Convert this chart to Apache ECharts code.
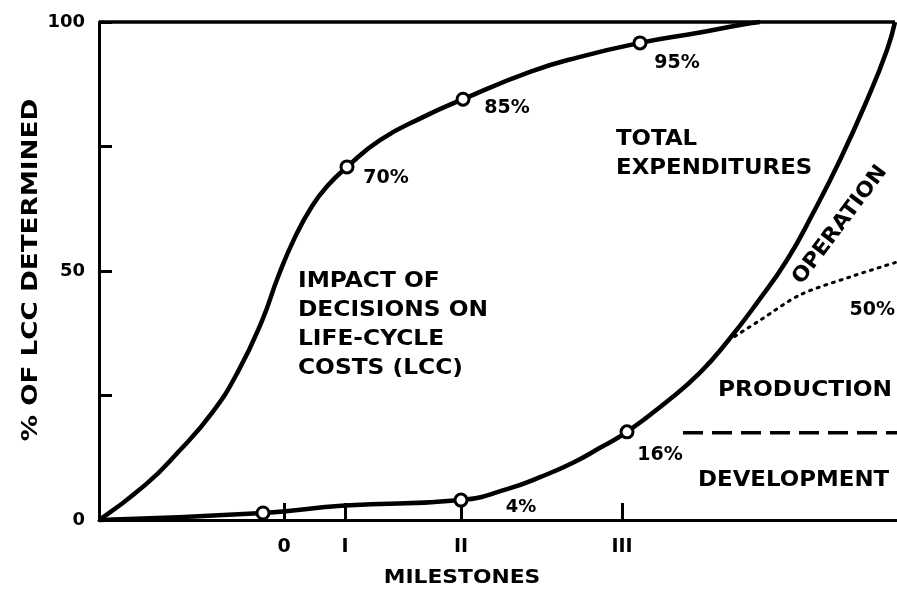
<!DOCTYPE html>
<html>
<head>
<meta charset="utf-8">
<script src="https://cdn.jsdelivr.net/npm/echarts@6/dist/echarts.min.js"></script>
<style>
html,body{margin:0;padding:0;background:#fff;}
#chart{width:897px;height:597px;}
</style>
</head>
<body>
<div id="chart"></div>
<script>
// Milestone positions on the horizontal (time) axis, in axis units
const milestoneValues = [185, 246, 362, 523];
const milestoneLabels = ['0', 'I', 'II', 'III'];
// Y axis tick labels
const yTickValues = [0, 25, 50, 75, 100];
const yTickLabels = ['0', '', '50', '', '100'];

// Impact of decisions on LCC (upper curve)
const impactX = [0, 46, 79, 113, 139, 163, 179, 196, 213, 229, 248, 281, 324, 364, 431, 481, 541, 598, 641, 661];
const impactY = [0, 7.0, 13.6, 21.5, 29.8, 40.0, 48.8, 56.8, 63.0, 67.2, 70.9, 76.3, 80.9, 84.5, 90.0, 93.0, 95.8, 97.8, 99.4, 100];
// Total expenditures (lower curve)
const spendX = [0, 164, 246, 362, 408, 441, 474, 501, 528, 568, 601, 629, 658, 688, 714, 741, 768, 788, 796];
const spendY = [0, 1.4, 2.9, 4.0, 6.2, 8.6, 11.5, 14.5, 17.7, 23.8, 29.6, 36.0, 43.6, 52.2, 61.6, 72.3, 84.3, 94.4, 100];
// Marked points (circles)
const impactMarkX = [248, 364, 541];
const impactMarkY = [70.9, 84.5, 95.8];
const spendMarkX = [164, 362, 528];
const spendMarkY = [1.4, 4.0, 17.7];
// Production / operation split (dotted)
const operX = [629, 661, 701, 751, 798];
const operY = [36.0, 40.1, 45.2, 48.8, 51.8];
// Development / production split (dashed)
const devX = [584, 798];
const devY = [17.5, 17.5];
// Top frame line at 100 %
const topX = [0, 796];
const topY = [100, 100];

const zip = (xs, ys) => xs.map((x, i) => [x, ys[i]]);
const F = '"DejaVu Sans", sans-serif';

const chart = echarts.init(document.getElementById('chart'), null, {renderer: 'canvas'});
const lineBase = {type: 'line', symbol: 'none', clip: false, silent: true, animation: false};
const markStyle = {color: '#ffffff', borderColor: '#000', borderWidth: 3, opacity: 1};

function label(text, x, y, opts) {
  opts = opts || {};
  return {
    type: 'text', x: x, y: y, z: 10,
    rotation: opts.rotation || 0,
    scaleX: opts.scaleX || 1,
    style: {
      text: text,
      font: 'bold ' + (opts.size || 21) + 'px ' + F,
      lineHeight: opts.lineHeight,
      align: opts.align || 'left',
      verticalAlign: opts.valign || 'middle',
      fill: '#000'
    }
  };
}

chart.setOption({
  backgroundColor: '#ffffff',
  animation: false,
  grid: {left: 99, right: 0, top: 22, bottom: 77, containLabel: false, outerBoundsMode: 'none'},
  xAxis: {
    type: 'value', min: 0, max: 798,
    splitLine: {show: false},
    axisLine: {lineStyle: {color: '#000', width: 3}},
    axisTick: {show: true, inside: true, length: 17, customValues: milestoneValues, lineStyle: {color: '#000', width: 3}},
    axisLabel: {
      customValues: milestoneValues,
      formatter: v => milestoneLabels[milestoneValues.indexOf(v)] || '',
      color: '#000', fontFamily: F, fontWeight: 'bold', fontSize: 19, margin: 18
    }
  },
  yAxis: {
    type: 'value', min: 0, max: 100, interval: 25,
    splitLine: {show: false},
    axisLine: {lineStyle: {color: '#000', width: 3}},
    axisTick: {inside: true, length: 13, lineStyle: {color: '#000', width: 3}},
    axisLabel: {
      formatter: v => yTickLabels[yTickValues.indexOf(v)] || '',
      color: '#000', fontFamily: F, fontWeight: 'bold', fontSize: 18, margin: 14
    }
  },
  series: [
    Object.assign({}, lineBase, {name: 'Top', data: zip(topX, topY), lineStyle: {color: '#000', width: 3.5}}),
    Object.assign({}, lineBase, {name: 'Impact of decisions', data: zip(impactX, impactY), smooth: 0.5, lineStyle: {color: '#000', width: 4.5}}),
    Object.assign({}, lineBase, {name: 'Total expenditures', data: zip(spendX, spendY), smooth: 0.5, lineStyle: {color: '#000', width: 4.5}}),
    Object.assign({}, lineBase, {name: 'Operation split', data: zip(operX, operY), smooth: 0.3, lineStyle: {color: '#000', width: 3, type: [2, 6], cap: 'round'}}),
    Object.assign({}, lineBase, {name: 'Development split', data: zip(devX, devY), lineStyle: {color: '#000', width: 3.5, type: [20, 9]}}),
    {type: 'scatter', name: 'Impact marks', data: zip(impactMarkX, impactMarkY), symbol: 'circle', symbolSize: 12, z: 5, silent: true, itemStyle: markStyle},
    {type: 'scatter', name: 'Spend marks', data: zip(spendMarkX, spendMarkY), symbol: 'circle', symbolSize: 12, z: 5, silent: true, itemStyle: markStyle}
  ],
  graphic: [
    label('% OF LCC DETERMINED', 32, 270, {size: 21, align: 'center', rotation: Math.PI / 2, scaleX: 1.25}),
    label('MILESTONES', 462, 578, {size: 20, align: 'center', scaleX: 1.09}),
    label('IMPACT OF\nDECISIONS ON\nLIFE-CYCLE\nCOSTS (LCC)', 298, 267, {valign: 'top', lineHeight: 29, scaleX: 1.11}),
    label('TOTAL\nEXPENDITURES', 616, 125, {valign: 'top', lineHeight: 29, scaleX: 1.09}),
    label('70%', 386, 178, {size: 19, align: 'center'}),
    label('85%', 507, 108, {size: 19, align: 'center'}),
    label('95%', 677, 63, {size: 19, align: 'center'}),
    label('16%', 660, 455, {size: 19, align: 'center'}),
    label('4%', 521, 507, {size: 18, align: 'center'}),
    label('50%', 895, 310, {size: 19, align: 'right'}),
    label('PRODUCTION', 718, 391, {scaleX: 1.11}),
    label('DEVELOPMENT', 698, 481, {scaleX: 1.09}),
    label('OPERATION', 840, 225, {align: 'center', rotation: 53 * Math.PI / 180, scaleX: 1.05})
  ]
});
</script>
</body>
</html>
